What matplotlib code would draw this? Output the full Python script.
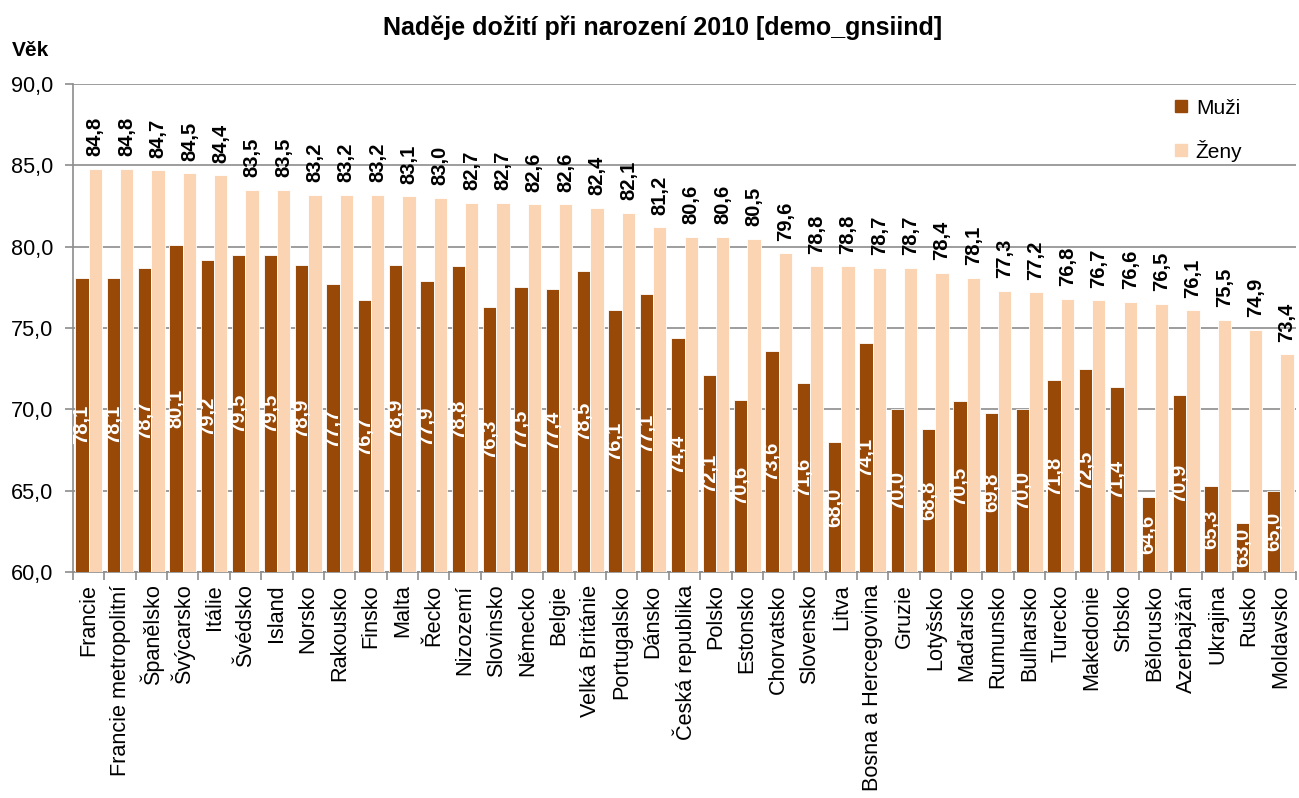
import matplotlib
matplotlib.use("Agg")
import matplotlib.pyplot as plt
import numpy as np
from matplotlib.lines import Line2D

plt.rcParams['font.family'] = ['Liberation Sans', 'DejaVu Sans']

countries = ["Francie", "Francie metropolitní", "Španělsko", "Švýcarsko", "Itálie",
             "Švédsko", "Island", "Norsko", "Rakousko", "Finsko", "Malta", "Řecko",
             "Nizozemí", "Slovinsko", "Německo", "Belgie", "Velká Británie",
             "Portugalsko", "Dánsko", "Česká republika", "Polsko", "Estonsko",
             "Chorvatsko", "Slovensko", "Litva", "Bosna a Hercegovina", "Gruzie",
             "Lotyšsko", "Maďarsko", "Rumunsko", "Bulharsko", "Turecko", "Makedonie",
             "Srbsko", "Bělorusko", "Azerbajžán", "Ukrajina", "Rusko", "Moldavsko"]
muzi = [78.1, 78.1, 78.7, 80.1, 79.2, 79.5, 79.5, 78.9, 77.7, 76.7, 78.9, 77.9,
        78.8, 76.3, 77.5, 77.4, 78.5, 76.1, 77.1, 74.4, 72.1, 70.6, 73.6, 71.6,
        68.0, 74.1, 70.0, 68.8, 70.5, 69.8, 70.0, 71.8, 72.5, 71.4, 64.6, 70.9,
        65.3, 63.0, 65.0]
zeny = [84.8, 84.8, 84.7, 84.5, 84.4, 83.5, 83.5, 83.2, 83.2, 83.2, 83.1, 83.0,
        82.7, 82.7, 82.6, 82.6, 82.4, 82.1, 81.2, 80.6, 80.6, 80.5, 79.6, 78.8,
        78.8, 78.7, 78.7, 78.4, 78.1, 77.3, 77.2, 76.8, 76.7, 76.6, 76.5, 76.1,
        75.5, 74.9, 73.4]
yticks = [60, 65, 70, 75, 80, 85, 90]

c_m = "#984807"
c_z = "#FBD4B4"
grid_c = "#8C8C8C"
ymin, ymax = 60, 90

fig = plt.figure(figsize=(12.99, 7.98), dpi=100)
ax = fig.add_axes([73/1299, 1-572/798, (1296-73)/1299, (572-84)/798])

x = np.arange(len(countries))
w = 0.425
ax.bar(x - w/2, np.array(muzi) - ymin, bottom=ymin, width=w, color=c_m,
       edgecolor="white", linewidth=0.6, zorder=3)
ax.bar(x + w/2, np.array(zeny) - ymin, bottom=ymin, width=w, color=c_z,
       edgecolor="white", linewidth=0.6, zorder=3)

def fmt(v):
    return f"{v:.1f}".replace(".", ",")

for xi, v in zip(x, muzi):
    ax.text(xi - w/2, (ymin + v) / 2, fmt(v), rotation=90, ha="center", va="center",
            color="white", fontsize=14.5, fontweight="bold", zorder=4)
for xi, v in zip(x, zeny):
    ax.annotate(fmt(v), (xi + w/2, v), xytext=(0, 9), textcoords="offset points",
                rotation=90, ha="center", va="bottom", color="black",
                fontsize=14.5, fontweight="bold", zorder=4)

ax.set_ylim(ymin, ymax)
ax.set_xlim(-0.5, len(countries) - 0.5)
ax.set_yticks(yticks)
ax.set_yticklabels([fmt(t) for t in yticks], fontsize=15.6)
ax.yaxis.grid(True, color=grid_c, linewidth=1.2, zorder=0)
ax.set_axisbelow(True)

ax.set_xticks(x)
ax.set_xticklabels(countries, rotation=90, fontsize=15.6)
ax.tick_params(axis="x", length=0, pad=9)
ax.set_xticks(np.arange(len(countries) + 1) - 0.5, minor=True)
ax.tick_params(axis="x", which="minor", length=6, color=grid_c, width=1.2)
ax.tick_params(axis="y", length=6, color=grid_c, width=1.2, pad=8)

for s in ["top", "right"]:
    ax.spines[s].set_visible(False)
for s in ["left", "bottom"]:
    ax.spines[s].set_color(grid_c)
    ax.spines[s].set_linewidth(1.2)

handles = [Line2D([], [], marker="s", linestyle="none", markersize=9, color=c_m),
           Line2D([], [], marker="s", linestyle="none", markersize=9, color=c_z)]
ax.legend(handles, ["Muži", "Ženy"], loc="upper left",
          bbox_to_anchor=(1150/1299, 1-80/798), bbox_transform=fig.transFigure,
          frameon=False, fontsize=15, labelspacing=1.05, handletextpad=0.1,
          handlelength=1.2)

fig.text(663/1299, 1-28/798, "Naděje dožití při narození 2010 [demo_gnsiind]",
         ha="center", va="center", fontsize=18, fontweight="bold")
fig.text(12/1299, 1-50/798, "Věk", ha="left", va="center", fontsize=15,
         fontweight="bold")

fig.savefig("out.png", dpi=100, facecolor="white")
